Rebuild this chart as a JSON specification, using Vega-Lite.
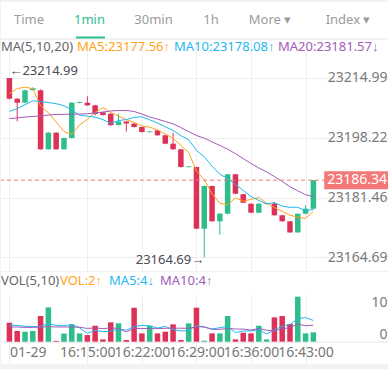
{
  "$schema": "https://vega.github.io/schema/vega-lite/v6.json",
  "background": "#f2f2f2",
  "padding": {"top": 2, "bottom": 5, "left": 0, "right": 0},
  "autosize": {"type": "pad"},
  "spacing": 2,
  "bounds": "flush",
  "config": {
    "font": "Noto Sans",
    "view": {"stroke": null, "fill": "white"},
    "axis": {"labelFont": "Noto Sans", "titleFont": "Noto Sans"},
    "legend": {"labelFont": "Noto Sans", "titleFont": "Noto Sans", "gridAlign": "none"}
  },
  "resolve": {"scale": {"x": "independent", "y": "independent", "color": "independent"}, "axis": {"x": "independent", "y": "independent"}, "legend": {"color": "independent"}},
  "datasets": {
    "tabs": [
      {"tab": "Time", "order": 0},
      {"tab": "1min", "order": 1},
      {"tab": "30min", "order": 2},
      {"tab": "1h", "order": 3},
      {"tab": "More ▾", "order": 4},
      {"tab": "Index ▾", "order": 5}
    ],
    "ext": [
      {"i": 0, "price": 23214.99, "label": "←23214.99", "kind": "max"},
      {"i": 25, "price": 23164.69, "label": "23164.69→", "kind": "min"}
    ],
    "k": [
      {"i": 0, "time": "16:05", "open": 23214.99, "high": 23214.99, "low": 23209.0, "close": 23209.19, "vol": 4.9, "ma5": 23210.6, "ma10": 23205.6, "ma20": 23203.64, "vma5": 4.3, "vma10": 3.8},
      {"i": 1, "time": "16:06", "open": 23209.19, "high": 23209.3, "low": 23202.85, "close": 23208.07, "vol": 2.76, "ma5": 23212.0, "ma10": 23206.4, "ma20": 23203.78, "vma5": 4.2, "vma10": 3.8},
      {"i": 2, "time": "16:07", "open": 23208.07, "high": 23211.7, "low": 23207.9, "close": 23211.54, "vol": 2.58, "ma5": 23212.4, "ma10": 23207.5, "ma20": 23204.06, "vma5": 4.0, "vma10": 3.7},
      {"i": 3, "time": "16:08", "open": 23211.6, "high": 23212.4, "low": 23211.5, "close": 23212.1, "vol": 2.76, "ma5": 23212.0, "ma10": 23208.6, "ma20": 23204.2, "vma5": 3.9, "vma10": 3.7},
      {"i": 4, "time": "16:09", "open": 23211.54, "high": 23211.8, "low": 23194.9, "close": 23195.0, "vol": 6.63, "ma5": 23207.18, "ma10": 23208.4, "ma20": 23204.34, "vma5": 3.93, "vma10": 3.8},
      {"i": 5, "time": "16:10", "open": 23195.0, "high": 23199.8, "low": 23194.9, "close": 23199.66, "vol": 8.87, "ma5": 23205.27, "ma10": 23208.1, "ma20": 23204.62, "vma5": 4.72, "vma10": 3.9},
      {"i": 6, "time": "16:11", "open": 23199.66, "high": 23199.8, "low": 23194.9, "close": 23195.0, "vol": 0.2, "ma5": 23202.66, "ma10": 23207.8, "ma20": 23204.76, "vma5": 4.21, "vma10": 3.8},
      {"i": 7, "time": "16:12", "open": 23195.0, "high": 23198.3, "low": 23194.9, "close": 23198.17, "vol": 2.15, "ma5": 23199.99, "ma10": 23207.2, "ma20": 23204.81, "vma5": 4.12, "vma10": 3.8},
      {"i": 8, "time": "16:13", "open": 23198.17, "high": 23208.2, "low": 23198.0, "close": 23208.07, "vol": 4.48, "ma5": 23199.18, "ma10": 23206.1, "ma20": 23204.81, "vma5": 4.47, "vma10": 3.8},
      {"i": 9, "time": "16:14", "open": 23208.0, "high": 23208.4, "low": 23207.9, "close": 23208.25, "vol": 2.15, "ma5": 23201.83, "ma10": 23204.51, "ma20": 23204.9, "vma5": 3.57, "vma10": 3.75},
      {"i": 10, "time": "16:15", "open": 23208.07, "high": 23209.86, "low": 23207.2, "close": 23207.33, "vol": 1.72, "ma5": 23203.36, "ma10": 23204.32, "ma20": 23204.98, "vma5": 2.14, "vma10": 3.43},
      {"i": 11, "time": "16:16", "open": 23207.33, "high": 23207.5, "low": 23204.5, "close": 23204.98, "vol": 4.13, "ma5": 23205.36, "ma10": 23204.01, "ma20": 23205.18, "vma5": 2.93, "vma10": 3.57},
      {"i": 12, "time": "16:17", "open": 23205.4, "high": 23205.5, "low": 23204.5, "close": 23204.6, "vol": 0.6, "ma5": 23206.65, "ma10": 23203.32, "ma20": 23205.46, "vma5": 2.62, "vma10": 3.37},
      {"i": 13, "time": "16:18", "open": 23204.98, "high": 23205.1, "low": 23201.6, "close": 23201.76, "vol": 5.0, "ma5": 23205.38, "ma10": 23202.28, "ma20": 23205.74, "vma5": 2.72, "vma10": 3.59},
      {"i": 14, "time": "16:19", "open": 23201.8, "high": 23205.04, "low": 23201.7, "close": 23202.8, "vol": 4.74, "ma5": 23204.29, "ma10": 23203.06, "ma20": 23205.88, "vma5": 3.24, "vma10": 3.4},
      {"i": 15, "time": "16:20", "open": 23202.8, "high": 23202.9, "low": 23199.94, "close": 23202.2, "vol": 0.43, "ma5": 23203.27, "ma10": 23203.32, "ma20": 23205.88, "vma5": 2.98, "vma10": 2.56},
      {"i": 16, "time": "16:21", "open": 23202.2, "high": 23202.3, "low": 23201.1, "close": 23201.25, "vol": 8.78, "ma5": 23202.52, "ma10": 23203.94, "ma20": 23205.6, "vma5": 3.91, "vma10": 3.42},
      {"i": 17, "time": "16:22", "open": 23201.25, "high": 23201.3, "low": 23199.7, "close": 23199.85, "vol": 2.15, "ma5": 23201.57, "ma10": 23204.11, "ma20": 23204.9, "vma5": 4.22, "vma10": 3.42},
      {"i": 18, "time": "16:23", "open": 23199.8, "high": 23200.1, "low": 23199.7, "close": 23200.0, "vol": 4.13, "ma5": 23201.22, "ma10": 23203.3, "ma20": 23204.06, "vma5": 4.05, "vma10": 3.38},
      {"i": 19, "time": "16:24", "open": 23200.3, "high": 23200.4, "low": 23198.8, "close": 23198.93, "vol": 2.15, "ma5": 23200.45, "ma10": 23202.37, "ma20": 23203.44, "vma5": 3.53, "vma10": 3.38},
      {"i": 20, "time": "16:25", "open": 23198.93, "high": 23199.0, "low": 23196.4, "close": 23196.57, "vol": 2.58, "ma5": 23199.32, "ma10": 23201.29, "ma20": 23202.81, "vma5": 3.96, "vma10": 3.47},
      {"i": 21, "time": "16:26", "open": 23196.57, "high": 23199.66, "low": 23194.9, "close": 23195.0, "vol": 4.48, "ma5": 23198.07, "ma10": 23200.3, "ma20": 23202.15, "vma5": 3.1, "vma10": 3.5},
      {"i": 22, "time": "16:27", "open": 23195.0, "high": 23195.1, "low": 23189.9, "close": 23190.04, "vol": 0.43, "ma5": 23196.11, "ma10": 23198.84, "ma20": 23201.08, "vma5": 2.75, "vma10": 3.49},
      {"i": 23, "time": "16:28", "open": 23190.0, "high": 23190.3, "low": 23189.9, "close": 23190.2, "vol": 4.74, "ma5": 23194.15, "ma10": 23197.68, "ma20": 23199.98, "vma5": 2.88, "vma10": 3.46},
      {"i": 24, "time": "16:29", "open": 23190.04, "high": 23190.1, "low": 23172.6, "close": 23172.74, "vol": 8.78, "ma5": 23188.91, "ma10": 23194.68, "ma20": 23198.87, "vma5": 4.2, "vma10": 3.87},
      {"i": 25, "time": "16:30", "open": 23172.74, "high": 23184.8, "low": 23164.69, "close": 23184.71, "vol": 0.26, "ma5": 23186.54, "ma10": 23192.93, "ma20": 23198.12, "vma5": 3.74, "vma10": 3.85},
      {"i": 26, "time": "16:31", "open": 23184.71, "high": 23184.8, "low": 23174.7, "close": 23174.82, "vol": 2.15, "ma5": 23182.5, "ma10": 23190.29, "ma20": 23197.11, "vma5": 3.27, "vma10": 3.19},
      {"i": 27, "time": "16:32", "open": 23174.82, "high": 23177.0, "low": 23171.06, "close": 23176.95, "vol": 2.15, "ma5": 23179.88, "ma10": 23188.0, "ma20": 23196.05, "vma5": 3.62, "vma10": 3.19},
      {"i": 28, "time": "16:33", "open": 23176.95, "high": 23188.1, "low": 23176.8, "close": 23187.99, "vol": 6.63, "ma5": 23179.44, "ma10": 23186.8, "ma20": 23195.05, "vma5": 3.99, "vma10": 3.44},
      {"i": 29, "time": "16:34", "open": 23187.99, "high": 23188.1, "low": 23182.4, "close": 23182.55, "vol": 0.6, "ma5": 23181.4, "ma10": 23185.16, "ma20": 23193.76, "vma5": 2.36, "vma10": 3.28},
      {"i": 30, "time": "16:35", "open": 23182.4, "high": 23182.5, "low": 23179.9, "close": 23180.03, "vol": 2.33, "ma5": 23180.47, "ma10": 23183.5, "ma20": 23192.4, "vma5": 2.77, "vma10": 3.26},
      {"i": 31, "time": "16:36", "open": 23179.75, "high": 23179.8, "low": 23177.1, "close": 23177.23, "vol": 2.15, "ma5": 23180.95, "ma10": 23181.73, "ma20": 23191.01, "vma5": 2.77, "vma10": 3.02},
      {"i": 32, "time": "16:37", "open": 23177.23, "high": 23179.9, "low": 23177.1, "close": 23179.75, "vol": 4.13, "ma5": 23181.51, "ma10": 23180.7, "ma20": 23189.77, "vma5": 3.17, "vma10": 3.39},
      {"i": 33, "time": "16:38", "open": 23179.7, "high": 23180.0, "low": 23179.6, "close": 23179.9, "vol": 0.6, "ma5": 23179.89, "ma10": 23179.67, "ma20": 23188.68, "vma5": 1.96, "vma10": 2.98},
      {"i": 34, "time": "16:39", "open": 23179.75, "high": 23180.23, "low": 23176.4, "close": 23176.5, "vol": 6.29, "ma5": 23178.68, "ma10": 23180.04, "ma20": 23187.36, "vma5": 3.1, "vma10": 2.73},
      {"i": 35, "time": "16:40", "open": 23176.5, "high": 23176.6, "low": 23174.7, "close": 23174.82, "vol": 6.63, "ma5": 23177.64, "ma10": 23179.05, "ma20": 23185.99, "vma5": 3.96, "vma10": 3.37},
      {"i": 36, "time": "16:41", "open": 23174.82, "high": 23174.9, "low": 23171.6, "close": 23171.7, "vol": 4.57, "ma5": 23176.53, "ma10": 23178.74, "ma20": 23184.51, "vma5": 4.44, "vma10": 3.61},
      {"i": 37, "time": "16:42", "open": 23171.7, "high": 23177.0, "low": 23171.6, "close": 23176.95, "vol": 11.63, "ma5": 23175.97, "ma10": 23178.74, "ma20": 23183.37, "vma5": 5.94, "vma10": 4.56},
      {"i": 38, "time": "16:43", "open": 23176.95, "high": 23179.3, "low": 23176.8, "close": 23178.35, "vol": 2.15, "ma5": 23175.66, "ma10": 23177.78, "ma20": 23182.29, "vma5": 6.25, "vma10": 4.11},
      {"i": 39, "time": "16:44", "open": 23178.35, "high": 23186.4, "low": 23178.2, "close": 23186.34, "vol": 2.41, "ma5": 23177.63, "ma10": 23178.16, "ma20": 23181.66, "vma5": 5.48, "vma10": 4.29}
    ]
  },
  "vconcat": [
    {
      "width": 388,
      "height": 36,
      "data": {"name": "tabs"},
      "mark": {"type": "text", "fontSize": 13, "baseline": "middle"},
      "encoding": {
        "x": {
          "field": "order", "type": "quantitative",
          "scale": {"domain": [0, 1, 2, 3, 4, 5], "range": [28, 88.5, 152.5, 210, 269, 347]},
          "axis": {"values": [1], "labels": false, "domain": false, "grid": false, "title": null, "tickColor": "#2DC08E", "tickWidth": 29, "tickSize": 2, "offset": -2, "tickCap": "butt"}
        },
        "text": {"field": "tab"},
        "color": {"condition": {"test": "datum.tab == '1min'", "value": "#2DC08E"}, "value": "#9b9b9b"}
      }
    },
    {
      "spacing": 1,
      "bounds": "flush",
      "resolve": {"scale": {"x": "independent", "y": "independent", "color": "independent"}, "axis": {"x": "independent", "y": "independent"}, "legend": {"color": "independent"}},
      "vconcat": [
        {
          "width": 388,
          "height": 231,
          "layer": [
            {
              "data": {"name": "k"},
              "mark": {"type": "rule", "strokeWidth": 1},
              "encoding": {
                "x": {"field": "i", "type": "quantitative", "scale": {"domain": [-0.4375, 48.0625], "nice": false, "zero": false},
                      "axis": {"values": [0, 10, 17, 24, 31, 38], "labels": false, "ticks": false, "domain": false, "grid": true, "gridColor": "#efefef", "title": null}},
                "y": {"field": "low", "type": "quantitative", "scale": {"domain": [23160.883, 23225.643], "nice": false, "zero": false},
                      "axis": {"orient": "right", "values": [23214.99, 23198.22, 23181.46, 23164.69], "format": ".2f", "labelAlign": "right", "labelPadding": -2, "ticks": false, "tickSize": 0, "domain": false, "grid": true, "gridColor": "#efefef", "labelFontSize": 14, "labelColor": "#7a7a7a", "labelBaseline": "middle", "title": null, "labelOverlap": false, "labelBound": false}},
                "y2": {"field": "high"},
                "color": {"condition": {"test": "datum.close >= datum.open", "value": "#2EBD8B"}, "value": "#DE3158"}
              }
            },
            {
              "data": {"name": "k"},
              "mark": {"type": "bar", "width": 5.5},
              "encoding": {
                "x": {"field": "i", "type": "quantitative"},
                "y": {"field": "open", "type": "quantitative"},
                "y2": {"field": "close"},
                "color": {"condition": {"test": "datum.close >= datum.open", "value": "#2EBD8B"}, "value": "#DE3158"}
              }
            },
            {
              "data": {"name": "k"},
              "transform": [{"fold": ["ma5", "ma10", "ma20"], "as": ["key", "value"]}],
              "mark": {"type": "line", "strokeWidth": 1},
              "encoding": {
                "x": {"field": "i", "type": "quantitative"},
                "y": {"field": "value", "type": "quantitative"},
                "color": {
                  "field": "key", "type": "nominal",
                  "scale": {"domain": ["ma5", "ma10", "ma20"], "range": ["#FFA31A", "#1FB7F2", "#A25BB8"]},
                  "legend": {
                    "orient": "none", "legendX": 0, "legendY": 0, "direction": "horizontal",
                    "title": "MA(5,10,20)", "titleOrient": "left", "titleFontSize": 13, "titleFontWeight": "normal", "titleColor": "#666666", "titlePadding": 1, "titleBaseline": "middle",
                    "labelFontSize": 13,
                    "labelExpr": "datum.value == 'ma5' ? 'MA5:23177.56↑' : datum.value == 'ma10' ? 'MA10:23178.08↑' : 'MA20:23181.57↓'",
                    "labelColor": {"expr": "datum.value == 'ma5' ? '#FFA31A' : datum.value == 'ma10' ? '#1FB7F2' : '#A25BB8'"},
                    "symbolSize": 0, "symbolStrokeWidth": 0, "symbolOpacity": 0, "labelOffset": -11, "columnPadding": 1, "padding": 0, "labelLimit": 300, "gridAlign": "none"
                  }
                }
              }
            },
            {
              "data": {"name": "k"},
              "transform": [{"filter": "datum.i == 39"}],
              "mark": {"type": "rule", "strokeDash": [4, 3], "color": "#F57878", "strokeWidth": 1},
              "encoding": {"y": {"field": "close", "type": "quantitative"}}
            },
            {
              "data": {"name": "k"},
              "transform": [{"filter": "datum.i == 39"}],
              "mark": {"type": "point", "shape": "M-7.2,-1H0V1H-7.2Z", "size": 324, "filled": true, "color": "#F57878", "opacity": 1, "strokeWidth": 0},
              "encoding": {"x": {"value": "width"}, "y": {"field": "close", "type": "quantitative"}}
            },
            {
              "data": {"name": "k"},
              "transform": [{"filter": "datum.i == 39"}],
              "mark": {"type": "text", "align": "right", "dx": -2, "fontSize": 14, "color": "white", "baseline": "middle"},
              "encoding": {"x": {"value": "width"}, "y": {"field": "close", "type": "quantitative"}, "text": {"field": "close", "format": ".2f"}}
            },
            {
              "data": {"name": "ext"},
              "transform": [{"filter": "datum.kind == 'max'"}],
              "mark": {"type": "text", "align": "left", "baseline": "bottom", "fontSize": 13, "color": "#4a4a55"},
              "encoding": {"x": {"field": "i", "type": "quantitative"}, "y": {"field": "price", "type": "quantitative"}, "text": {"field": "label"}}
            },
            {
              "data": {"name": "ext"},
              "transform": [{"filter": "datum.kind == 'min'"}],
              "mark": {"type": "text", "align": "right", "baseline": "top", "dy": -3, "fontSize": 13, "color": "#4a4a55"},
              "encoding": {"x": {"field": "i", "type": "quantitative"}, "y": {"field": "price", "type": "quantitative"}, "text": {"field": "label"}}
            }
          ]
        },
        {
          "width": 388,
          "height": 92,
          "layer": [
            {
              "data": {"name": "k"},
              "mark": {"type": "bar", "width": 5.5},
              "encoding": {
                "x": {"field": "i", "type": "quantitative", "scale": {"domain": [-0.4375, 48.0625], "nice": false, "zero": false},
                      "axis": {"values": [0, 10, 17, 24, 31, 38],
                               "labelExpr": "datum.value == 0 ? '01-29' : datum.value == 10 ? '16:15:00' : datum.value == 17 ? '16:22:00' : datum.value == 24 ? '16:29:00' : datum.value == 31 ? '16:36:00' : '16:43:00'",
                               "labelAlign": {"expr": "datum.value == 0 ? 'left' : 'center'"},
                               "labelOverlap": false, "labelBound": false, "grid": true, "gridColor": "#efefef", "ticks": false, "tickSize": 0, "domain": true, "domainColor": "#e6e6e6", "offset": -22.3, "labelPadding": 4, "labelFontSize": 14, "labelColor": "#777777", "labelBaseline": "top", "title": null}},
                "y": {"field": "vol", "type": "quantitative", "scale": {"domain": [0, 18.01], "range": [69.7, 0], "nice": false, "zero": false},
                      "axis": {"orient": "right", "values": [0, 10], "labelAlign": "right", "labelPadding": -2, "ticks": false, "tickSize": 0, "domain": false, "grid": false, "labelFontSize": 14, "labelColor": "#7a7a7a", "labelBaseline": {"expr": "datum.value == 0 ? 'bottom' : 'middle'"}, "title": null, "labelOverlap": false, "labelBound": false}},
                "y2": {"datum": 0},
                "color": {"condition": {"test": "datum.close >= datum.open", "value": "#2EBD8B"}, "value": "#DE3158"}
              }
            },
            {
              "data": {"name": "k"},
              "transform": [{"fold": ["vma5", "vma10"], "as": ["key", "value"]}],
              "mark": {"type": "line", "strokeWidth": 1},
              "encoding": {
                "x": {"field": "i", "type": "quantitative"},
                "y": {"field": "value", "type": "quantitative"},
                "color": {
                  "field": "key", "type": "nominal",
                  "scale": {"domain": ["vol", "vma5", "vma10"], "range": ["#FFA31A", "#1FB7F2", "#A25BB8"]},
                  "legend": {
                    "orient": "none", "legendX": 0, "legendY": 2, "direction": "horizontal",
                    "title": "VOL(5,10)", "titleOrient": "left", "titleFontSize": 13, "titleFontWeight": "normal", "titleColor": "#666666", "titlePadding": 1, "titleBaseline": "middle",
                    "labelFontSize": 13,
                    "labelExpr": "datum.value == 'vol' ? 'VOL:2↑' : datum.value == 'vma5' ? 'MA5:4↓' : 'MA10:4↑'",
                    "labelColor": {"expr": "datum.value == 'vol' ? '#FFA31A' : datum.value == 'vma5' ? '#1FB7F2' : '#A25BB8'"},
                    "symbolSize": 0, "symbolStrokeWidth": 0, "symbolOpacity": 0, "labelOffset": -14, "columnPadding": 6, "padding": 0, "labelLimit": 300, "gridAlign": "none"
                  }
                }
              }
            }
          ]
        }
      ]
    }
  ]
}
